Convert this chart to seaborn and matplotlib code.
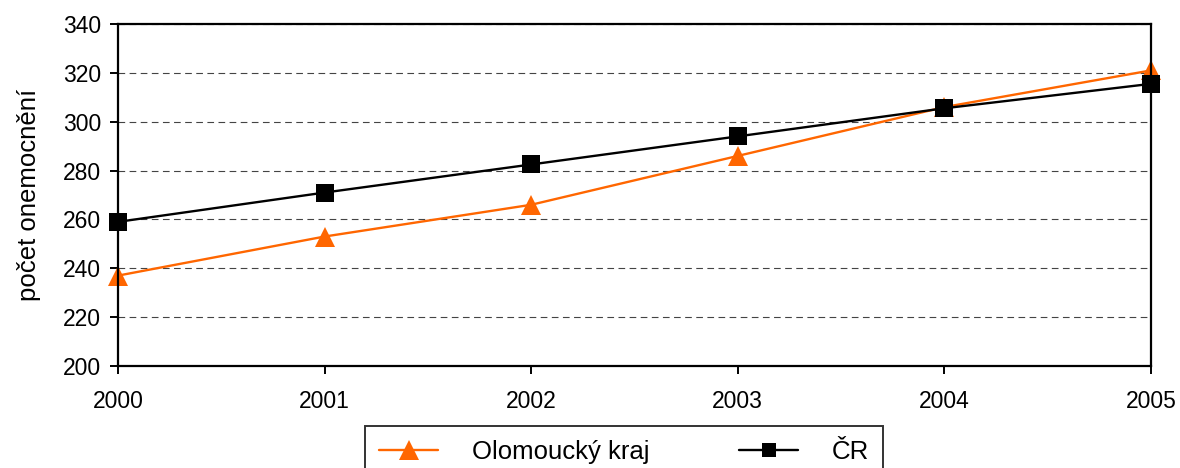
import pandas as pd
import numpy as np
import seaborn as sns
import matplotlib.pyplot as plt
from matplotlib.lines import Line2D

years = [2000, 2001, 2002, 2003, 2004, 2005]
olomoucky = [237, 253, 266, 286, 306, 321]
cr = [259, 271, 282.5, 294, 305.5, 315.5]
series_names = ['Olomoucký kraj', 'ČR']

df = pd.DataFrame({
    'rok': years * 2,
    'hodnota': olomoucky + cr,
    'serie': [series_names[0]] * len(years) + [series_names[1]] * len(years),
})

sns.set_theme(style='white')
plt.rcParams['font.family'] = ['Liberation Sans', 'DejaVu Sans']
plt.rcParams['text.color'] = 'black'
plt.rcParams['axes.labelcolor'] = 'black'
plt.rcParams['xtick.color'] = 'black'
plt.rcParams['ytick.color'] = 'black'

fig = plt.figure(figsize=(11.8, 4.68), dpi=100)
ax = fig.add_axes([118 / 1180, 1 - 366 / 468, (1151 - 118) / 1180, (366 - 24) / 468])

sns.lineplot(data=df, x='rok', y='hodnota', hue='serie', style='serie',
             palette={series_names[0]: '#FF6600', series_names[1]: 'black'},
             markers={series_names[0]: '^', series_names[1]: 's'},
             dashes=False, markersize=13, linewidth=1.7,
             markeredgewidth=0, ax=ax, legend=False)
ax.lines[0].set_markersize(14.5)

ax.set_xlim(2000, 2005)
ax.set_ylim(200, 340)
ax.set_yticks(range(200, 341, 20))
ax.set_xticks(years)
ax.yaxis.grid(True, linestyle=(0, (6, 4)), color='#444444', linewidth=0.8)
ax.set_axisbelow(True)
for s in ax.spines.values():
    s.set_color('black')
    s.set_linewidth(1.6)
ax.tick_params(axis='both', direction='out', length=6, width=1.4, color='black',
               labelcolor='black', labelsize=16.5, bottom=True, left=True)
ax.tick_params(axis='y', pad=6)
ax.tick_params(axis='x', pad=11)
ax.set_xlabel('')
ax.set_ylabel('počet onemocnění', fontsize=18.5, labelpad=16, color='black')
for line in ax.lines:
    line.set_clip_on(False)

handles = [
    Line2D([], [], color='#FF6600', marker='^', markersize=14, linewidth=1.7, markeredgewidth=0),
    Line2D([], [], color='black', marker='s', markersize=9.5, linewidth=1.7, markeredgewidth=0),
]
leg = fig.legend(handles, series_names, loc='upper left',
                 bbox_to_anchor=(365 / 1180, 1 - 426 / 468), ncol=2,
                 fontsize=18.5, frameon=True, fancybox=False, edgecolor='black',
                 handlelength=2.3, handletextpad=1.3, columnspacing=3.5,
                 borderpad=0.55, borderaxespad=0)
leg.get_frame().set_linewidth(1.4)

fig.savefig('out.png', dpi=100)
